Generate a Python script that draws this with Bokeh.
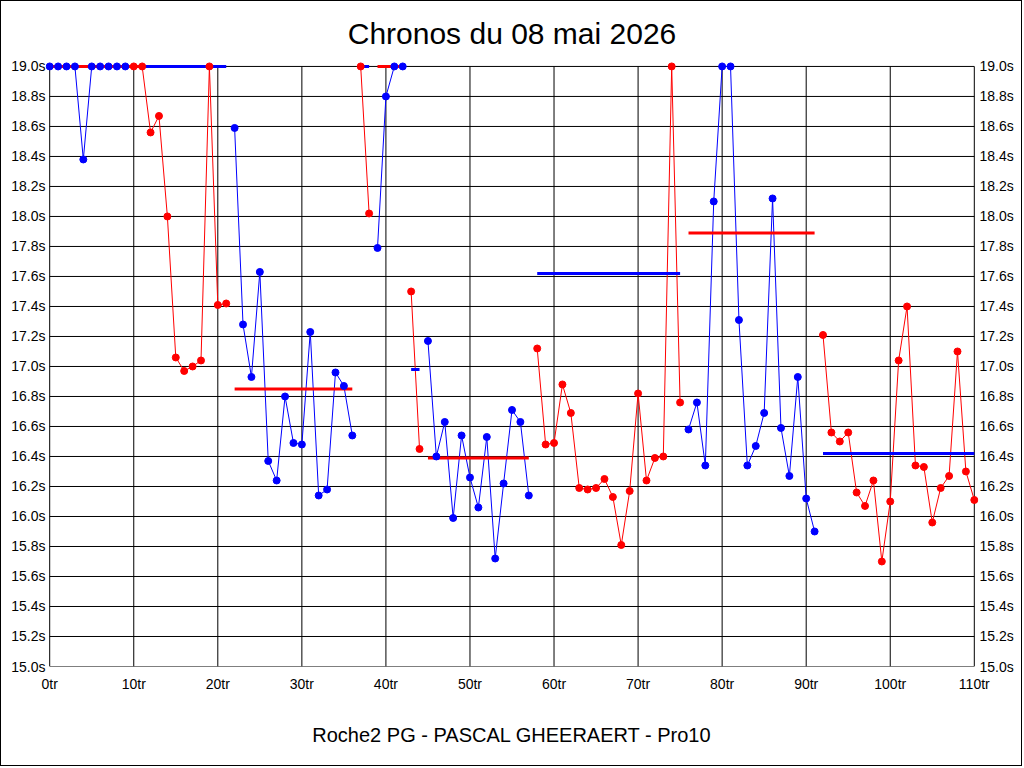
from bokeh.plotting import figure
from bokeh.models import Range1d, FixedTicker, PrintfTickFormatter, LinearAxis, ColumnDataSource
from bokeh.embed import file_html
from bokeh.resources import INLINE

# ---- data ----
title_text = "Chronos du 08 mai 2026"
footer_text = "Roche2 PG - PASCAL GHEERAERT - Pro10"

x_ticks = [0, 10, 20, 30, 40, 50, 60, 70, 80, 90, 100, 110]
y_ticks = [15.0, 15.2, 15.4, 15.6, 15.8, 16.0, 16.2, 16.4, 16.6, 16.8, 17.0,
           17.2, 17.4, 17.6, 17.8, 18.0, 18.2, 18.4, 18.6, 18.8, 19.0]

# first lap of each run segment
seg_first_lap = [0, 10, 22, 37, 39, 43, 45, 58, 76, 92]
seg_times = [
    [19.0, 19.0, 19.0, 19.0, 18.38, 19.0, 19.0, 19.0, 19.0, 19.0],
    [19.0, 19.0, 18.56, 18.67, 18.00, 17.06, 16.97, 17.00, 17.04, 19.0, 17.41, 17.42],
    [18.59, 17.28, 16.93, 17.63, 16.37, 16.24, 16.80, 16.49, 16.48, 17.23, 16.14, 16.18, 16.96, 16.87, 16.54],
    [19.0, 18.02],
    [17.79, 18.80, 19.0, 19.0],
    [17.50, 16.45],
    [17.17, 16.40, 16.63, 15.99, 16.54, 16.26, 16.06, 16.53, 15.72, 16.22, 16.71, 16.63, 16.14],
    [17.12, 16.48, 16.49, 16.88, 16.69, 16.19, 16.18, 16.19, 16.25, 16.13, 15.81, 16.17, 16.82, 16.24, 16.39, 16.40, 19.0, 16.76],
    [16.58, 16.76, 16.34, 18.10, 19.0, 19.0, 17.31, 16.34, 16.47, 16.69, 18.12, 16.59, 16.27, 16.93, 16.12, 15.90],
    [17.21, 16.56, 16.50, 16.56, 16.16, 16.07, 16.24, 15.70, 16.10, 17.04, 17.40, 16.34, 16.33, 15.96, 16.19, 16.27, 17.10, 16.30, 16.11],
]
# segment mean lines (clipped at 19.0s) and their extents in laps
mean_values = [19.0, 19.0, 16.85, 19.0, 19.0, 16.98, 16.39, 17.62, 17.89, 16.42]
mean_from = [0, 11, 22, 37, 39, 43, 45, 58, 76, 92]
mean_to = [11, 21, 36, 38, 42, 44, 57, 75, 91, 110]

data_colors = ["#0000FF", "#FF0000"]
mean_colors = ["#FF0000", "#0000FF"]

X_MIN, X_MAX = 0, 110
Y_MIN, Y_MAX = 15.0, 19.0
X_PAD, Y_PAD = 0.5, 0.033   # room so markers on the border are not clipped

FONT = "Liberation Sans"

p = figure(width=1022, height=766,
           x_range=Range1d(X_MIN - X_PAD, X_MAX + X_PAD),
           y_range=Range1d(Y_MIN, Y_MAX + Y_PAD),
           output_backend="svg", toolbar_location=None,
           min_border_left=44, min_border_right=45, min_border_top=60, min_border_bottom=101)

p.background_fill_color = "white"
p.border_fill_color = "white"
p.outline_line_color = None
p.grid.visible = False

p.title.text = title_text
p.title.align = "center"
p.title.text_font = FONT
p.title.text_font_size = "30px"
p.title.text_font_style = "normal"
p.title.text_color = "black"
p.title.standoff = 24

# axes
p.xaxis.ticker = FixedTicker(ticks=x_ticks)
p.xaxis.formatter = PrintfTickFormatter(format="%dtr")
p.yaxis.ticker = FixedTicker(ticks=y_ticks)
p.yaxis.formatter = PrintfTickFormatter(format="%.1fs")

right_axis = LinearAxis(ticker=FixedTicker(ticks=y_ticks), formatter=PrintfTickFormatter(format="%.1fs"))
p.add_layout(right_axis, "right")

for ax in p.xaxis + p.yaxis:
    ax.major_tick_line_color = None
    ax.minor_tick_line_color = None
    ax.major_tick_out = 0
    ax.major_tick_in = 0
    ax.minor_tick_out = 0
    ax.minor_tick_in = 0
    ax.axis_line_color = None
    ax.major_label_text_font = FONT
    ax.major_label_text_font_size = "14px"
    ax.major_label_text_color = "black"
    ax.major_label_standoff = 1

p.yaxis[0].major_label_standoff = 0
p.xaxis.major_label_standoff = 9
p.xaxis.axis_label = footer_text
p.xaxis.axis_label_text_font = FONT
p.xaxis.axis_label_text_font_size = "20px"
p.xaxis.axis_label_text_font_style = "normal"
p.xaxis.axis_label_text_color = "black"
p.xaxis.axis_label_standoff = 29

# grid (drawn at the tick positions, bounded by the axis limits)
p.segment(x0=x_ticks, y0=[Y_MIN] * len(x_ticks), x1=x_ticks, y1=[Y_MAX] * len(x_ticks),
          line_color="black", line_width=1)
p.segment(x0=[X_MIN] * len(y_ticks), y0=y_ticks, x1=[X_MAX] * len(y_ticks), y1=y_ticks,
          line_color="black", line_width=1)

sources = []
for i, times in enumerate(seg_times):
    laps = list(range(seg_first_lap[i], seg_first_lap[i] + len(times)))
    sources.append(ColumnDataSource(dict(lap=laps, t=times)))

# lap time lines
for i, src in enumerate(sources):
    p.line("lap", "t", source=src, line_color=data_colors[i % 2], line_width=1)

# mean lines
for i, m in enumerate(mean_values):
    p.line([mean_from[i], mean_to[i]], [m, m], line_color=mean_colors[i % 2], line_width=3)

# lap markers
for i, src in enumerate(sources):
    c = data_colors[i % 2]
    p.scatter("lap", "t", source=src, size=7, fill_color=c, line_color=c)

p.styles = {"border": "1px solid black"}

open("out.html", "w").write(file_html(p, INLINE))
